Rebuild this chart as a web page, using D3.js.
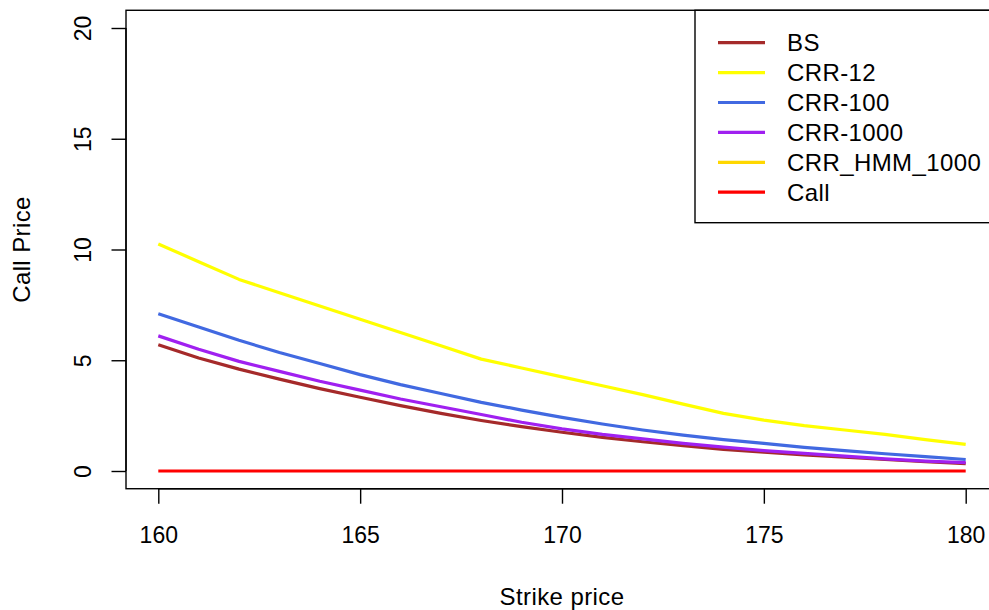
<!DOCTYPE html>
<html>
<head>
<meta charset="utf-8">
<script src="https://cdn.jsdelivr.net/npm/d3@7"></script>
<style>
  html, body { margin: 0; padding: 0; background: #fff; }
  svg { display: block; font-family: "Liberation Sans", Arial, sans-serif; }
</style>
</head>
<body>
<svg id="chart" width="989" height="610"></svg>
<script>
// ---- data ----
const strikes = [160,161,162,163,164,165,166,167,168,169,170,171,172,173,174,175,176,177,178,179,180];
const bs      = [5.70,5.10,4.60,4.15,3.72,3.33,2.95,2.60,2.28,2.00,1.75,1.52,1.32,1.14,0.98,0.85,0.73,0.62,0.52,0.42,0.33];
const crr12   = [10.25,9.45,8.65,8.05,7.45,6.85,6.25,5.65,5.05,4.65,4.25,3.85,3.45,3.02,2.60,2.30,2.05,1.85,1.65,1.42,1.20];
const crr100  = [7.10,6.50,5.90,5.35,4.85,4.35,3.90,3.50,3.10,2.75,2.42,2.12,1.85,1.62,1.42,1.25,1.07,0.92,0.78,0.65,0.52];
const crr1000 = [6.10,5.50,4.95,4.50,4.05,3.65,3.25,2.90,2.55,2.20,1.90,1.65,1.45,1.25,1.08,0.92,0.80,0.67,0.55,0.45,0.38];
const crrHmm1000 = []; // not visible in the plotted range
const call    = [0,0,0,0,0,0,0,0,0,0,0,0,0,0,0,0,0,0,0,0,0];
const seriesNames = ["BS","CRR-12","CRR-100","CRR-1000","CRR_HMM_1000","Call"];
const seriesColors = ["#A52A2A","#FFFF00","#4169E1","#A020F0","#FFD700","#FF0000"];
const seriesValues = [bs, crr12, crr100, crr1000, crrHmm1000, call];
const xTicks = [160,165,170,175,180];
const yTicks = [0,5,10,15,20];

// ---- layout ----
const svg = d3.select("#chart");
const x = d3.scaleLinear().domain([160,180]).range([158.3,965.7]);
const y = d3.scaleLinear().domain([0,20]).range([471,28]);
const fs = 23;
const fsText = 24;
const ls = "0.4px";
const x0 = x(159.2), x1 = x(180.8), yTop = y(20.8), yBot = y(-0.8);

// lines
const line = d3.line().x(d => x(d[0])).y(d => y(d[1]));
seriesValues.forEach((vals, i) => {
  if (!vals.length) return;
  svg.append("path")
    .datum(strikes.map((s, j) => [s, vals[j]]))
    .attr("d", line)
    .attr("fill", "none")
    .attr("stroke", seriesColors[i])
    .attr("stroke-width", 3.2)
    .attr("stroke-linejoin", "round");
});

// box
svg.append("rect")
  .attr("x", x0).attr("y", yTop)
  .attr("width", x1 - x0).attr("height", yBot - yTop)
  .attr("fill", "none").attr("stroke", "#000").attr("stroke-width", 1.4);

// x axis
const xa = svg.append("g").attr("transform", `translate(0,${yBot})`)
  .call(d3.axisBottom(x).tickValues(xTicks).tickSize(15).tickPadding(0).tickFormat(d3.format("d")));
xa.select(".domain").attr("d", `M${x(160)},0H${x(180)}`).attr("stroke-width", 1.4);
xa.selectAll(".tick line").attr("stroke-width", 1.4);
xa.selectAll(".tick text").attr("font-size", fs).attr("font-family", "Liberation Sans, Arial, sans-serif")
  .attr("fill", "#000").attr("dy", null).attr("y", 543 - yBot);

// y axis
const ya = svg.append("g").attr("transform", `translate(${x0},0)`)
  .call(d3.axisLeft(y).tickValues(yTicks).tickSize(14.5).tickPadding(0).tickFormat(d3.format("d")));
ya.select(".domain").attr("d", `M0,${y(0)}V${y(20)}`).attr("stroke-width", 1.4);
ya.selectAll(".tick line").attr("stroke-width", 1.4);
ya.selectAll(".tick text")
  .attr("font-size", fs).attr("font-family", "Liberation Sans, Arial, sans-serif").attr("fill", "#000")
  .attr("x", null).attr("dy", null)
  .attr("text-anchor", "middle")
  .attr("transform", `translate(${90.7 - x0},0) rotate(-90)`);

// axis titles
svg.append("text").attr("x", (x(160) + x(180)) / 2).attr("y", 605)
  .attr("text-anchor", "middle").attr("font-size", fsText).attr("letter-spacing", ls).text("Strike price");
svg.append("text").attr("transform", `translate(30,${(yTop + yBot) / 2}) rotate(-90)`)
  .attr("text-anchor", "middle").attr("font-size", fsText).attr("letter-spacing", ls).text("Call Price");

// legend
const lg = svg.append("g");
lg.append("rect").attr("x", 695).attr("y", yTop).attr("width", x1 - 695).attr("height", 222.7 - yTop)
  .attr("fill", "#fff").attr("stroke", "#000").attr("stroke-width", 1.4);
seriesNames.forEach((name, i) => {
  const cy = 42.7 + i * 29.9;
  lg.append("line").attr("x1", 718).attr("x2", 765).attr("y1", cy).attr("y2", cy)
    .attr("stroke", seriesColors[i]).attr("stroke-width", 3.2);
  lg.append("text").attr("x", 787).attr("y", cy + 8.5).attr("font-size", fsText)
    .attr("letter-spacing", ls).text(name);
});
</script>
</body>
</html>
